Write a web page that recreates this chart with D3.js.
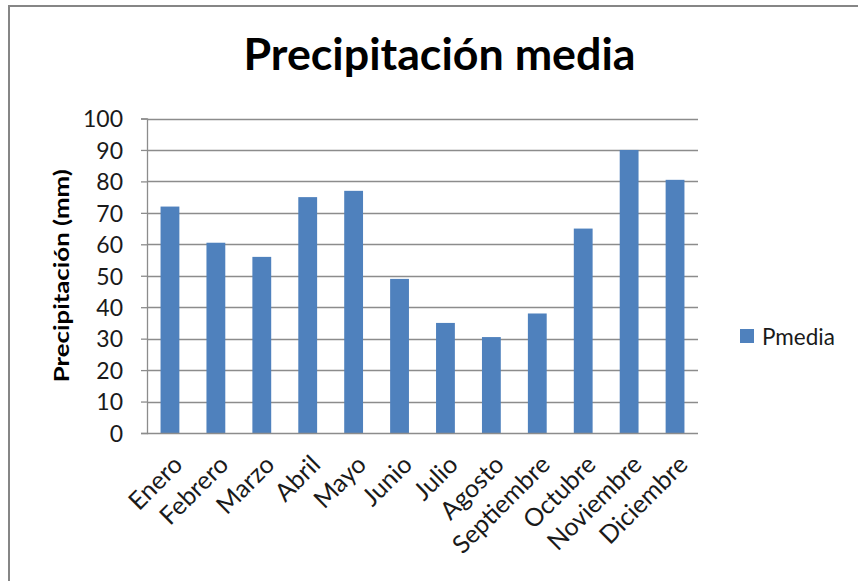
<!DOCTYPE html>
<html>
<head>
<meta charset="utf-8">
<script src="https://cdn.jsdelivr.net/npm/d3@7/dist/d3.min.js"></script>
<style>
  html, body { margin: 0; padding: 0; background: #fff; }
  svg { display: block; }
</style>
</head>
<body>
<svg id="chart" width="858" height="581"></svg>
<script>
// Monthly mean precipitation (mm)
const months = ["Enero", "Febrero", "Marzo", "Abril", "Mayo", "Junio",
                "Julio", "Agosto", "Septiembre", "Octubre", "Noviembre", "Diciembre"];
const pmedia = [72, 60.5, 56, 75, 77, 49, 35, 30.5, 38, 65, 90, 80.5];
const yTicks = [0, 10, 20, 30, 40, 50, 60, 70, 80, 90, 100];
const seriesName = "Pmedia";
const chartTitle = "Precipitación media";
const yTitle = "Precipitación (mm)";

const W = 858, H = 581;
const plot = { left: 147, right: 698, top: 118.5, bottom: 433 };
const barColor = "#4F81BD";
const lineColor = "#8C8C8C";
const font = "Lato, 'Open Sans', sans-serif";

const svg = d3.select("#chart");

// outer chart frame
svg.append("rect")
  .attr("x", 9).attr("y", 6)
  .attr("width", W + 20).attr("height", H + 20)
  .attr("fill", "#fff")
  .attr("stroke", "#868686")
  .attr("stroke-width", 2);

const x = d3.scaleBand()
  .domain(months)
  .range([plot.left, plot.right])
  .paddingInner(0.59)
  .paddingOuter(0.295);

const y = d3.scaleLinear()
  .domain([0, 100])
  .range([plot.bottom, plot.top]);

// horizontal gridlines
svg.append("g")
  .selectAll("line")
  .data(yTicks.filter(d => d > 0))
  .join("line")
  .attr("x1", plot.left).attr("x2", plot.right)
  .attr("y1", d => Math.round(y(d)) + 0.5)
  .attr("y2", d => Math.round(y(d)) + 0.5)
  .attr("stroke", lineColor)
  .attr("stroke-width", 1.3);

// bars
svg.append("g")
  .selectAll("rect")
  .data(months.map((m, i) => ({ m, v: pmedia[i] })))
  .join("rect")
  .attr("x", d => x(d.m))
  .attr("width", x.bandwidth())
  .attr("y", d => y(d.v))
  .attr("height", d => y(0) - y(d.v))
  .attr("fill", barColor);

// y axis
const yAxis = svg.append("g")
  .attr("transform", `translate(${plot.left},0)`)
  .call(d3.axisLeft(y).tickValues(yTicks).tickSize(6).tickPadding(18));
yAxis.select(".domain").attr("stroke", lineColor).attr("stroke-width", 1.3);
yAxis.selectAll(".tick line").attr("stroke", lineColor).attr("stroke-width", 1.3);
yAxis.selectAll(".tick text")
  .attr("font-family", font)
  .attr("font-size", 23)
  .attr("fill", "#1a1a1a")
  .attr("dy", "0.36em");

// x axis
const xAxis = svg.append("g")
  .attr("transform", `translate(0,${plot.bottom})`)
  .call(d3.axisBottom(x).tickSize(0).tickPadding(0));
xAxis.select(".domain")
  .attr("d", `M${plot.left},0.5H${plot.right}`)
  .attr("stroke", lineColor).attr("stroke-width", 1.3);
xAxis.selectAll(".tick text")
  .attr("font-family", font)
  .attr("font-size", 25)
  .attr("fill", "#1a1a1a")
  .attr("text-anchor", "end")
  .attr("dy", "0.35em")
  .attr("transform", "translate(8,27) rotate(-45)")
  .attr("y", 0).attr("x", 0);

// title
svg.append("text")
  .attr("x", 439.5).attr("y", 70)
  .attr("text-anchor", "middle")
  .attr("font-family", font)
  .attr("font-weight", "bold")
  .attr("font-size", 44)
  .attr("fill", "#000")
  .text(chartTitle)
  .attr("textLength", 392)
  .attr("lengthAdjust", "spacingAndGlyphs");

// y axis title
svg.append("text")
  .attr("transform", `translate(69,${(plot.top + plot.bottom) / 2}) rotate(-90)`)
  .attr("text-anchor", "middle")
  .attr("font-family", font)
  .attr("font-weight", "bold")
  .attr("font-size", 20)
  .attr("fill", "#000")
  .text(yTitle)
  .attr("textLength", 213)
  .attr("lengthAdjust", "spacingAndGlyphs");

// legend
const legend = svg.append("g").attr("transform", "translate(740,329)");
legend.append("rect")
  .attr("width", 14).attr("height", 14)
  .attr("fill", barColor);
legend.append("text")
  .attr("x", 22).attr("y", 15.5)
  .attr("font-family", font)
  .attr("font-size", 22.5)
  .attr("fill", "#1a1a1a")
  .text(seriesName);
</script>
</body>
</html>
